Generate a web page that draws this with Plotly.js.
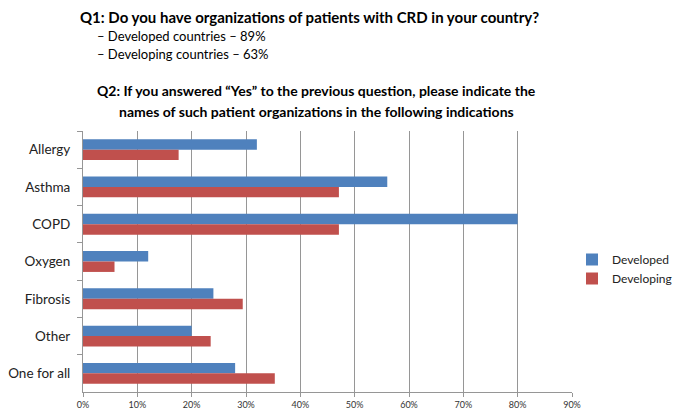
<!DOCTYPE html>
<html>
<head>
<meta charset="utf-8">
<script src="https://cdn.plot.ly/plotly-3.0.1.min.js"></script>
<style>html,body{margin:0;padding:0;background:#fff;}#chart{width:680px;height:420px;}</style>
</head>
<body>
<div id="chart"></div>
<script>
const categories = ["Allergy", "Asthma", "COPD", "Oxygen", "Fibrosis", "Other", "One for all"];
const developed = [0.32, 0.56, 0.80, 0.12, 0.24, 0.20, 0.28];
const developing = [0.176, 0.471, 0.471, 0.058, 0.294, 0.235, 0.353];
const seriesNames = ["Developed", "Developing"];
const tickVals = [0, 0.1, 0.2, 0.3, 0.4, 0.5, 0.6, 0.7, 0.8, 0.9];
const tickLabels = ["0%", "10%", "20%", "30%", "40%", "50%", "60%", "70%", "80%", "90%"];
const q1Title = "Q1: Do you have organizations of patients with CRD in your country?";
const q1Lines = ["– Developed countries – 89%", "– Developing countries – 63%"];
const q2Lines = ["Q2: If you answered “Yes” to the previous question, please indicate the", "names of such patient organizations in the following indications"];

const W = 680, H = 420;
const M = {l: 83, r: 107, t: 131, b: 28};
const pw = W - M.l - M.r, ph = H - M.t - M.b;
const px = x => (x - M.l) / pw;
const py = y => (H - M.b - y) / ph;
const FONT = "Lato, 'Open Sans', sans-serif";

const traces = [
  {type: "bar", orientation: "h", name: seriesNames[0], y: categories, x: developed,
   marker: {color: "#4F81BD"}, hoverinfo: "none"},
  {type: "bar", orientation: "h", name: seriesNames[1], y: categories, x: developing,
   marker: {color: "#C0504D"}, hoverinfo: "none"}
];

const ann = [];
ann.push({text: "<b>" + q1Title + "</b>", x: px(78), y: py(17), xanchor: "left", yanchor: "middle",
  font: {size: 15, color: "#000"}});
q1Lines.forEach((t, i) => ann.push({text: t, x: px(95), y: py(36 + i * 17.6), xanchor: "left", yanchor: "middle",
  font: {size: 13, color: "#000"}}));
q2Lines.forEach((t, i) => ann.push({text: "<b>" + t + "</b>", x: px(317), y: py(90 + i * 21.7), xanchor: "center", yanchor: "middle",
  font: {size: 14, color: "#000"}}));
ann.forEach(a => { a.xref = "paper"; a.yref = "paper"; a.showarrow = false; });

const layout = {
  width: W, height: H,
  margin: M,
  paper_bgcolor: "#fff", plot_bgcolor: "#fff",
  font: {family: FONT, color: "#222"},
  barmode: "group",
  bargap: 0.44,
  bargroupgap: 0,
  showlegend: true,
  legend: {xref: "container", yref: "container", x: 572 / W, xanchor: "left", y: (H - 269) / H, yanchor: "middle",
    traceorder: "normal", font: {size: 12, color: "#222"}, itemwidth: 30},
  xaxis: {range: [0, 0.9], tickvals: tickVals, ticktext: tickLabels, showgrid: true, gridcolor: "#969696", gridwidth: 1,
    showline: true, linecolor: "#969696", ticks: "outside", ticklen: 4, tickcolor: "#969696",
    tickfont: {size: 9, color: "#333"}, zeroline: false, fixedrange: true},
  yaxis: {autorange: "reversed", showline: true, linecolor: "#969696", ticks: "outside", ticklen: 5, tickcolor: "#969696",
    tickson: "boundaries", showgrid: false, tickfont: {size: 13.5, color: "#222"}, ticklabelstandoff: 9, fixedrange: true},
  annotations: ann
};

Plotly.newPlot("chart", traces, layout, {displayModeBar: false, staticPlot: true});
</script>
</body>
</html>
